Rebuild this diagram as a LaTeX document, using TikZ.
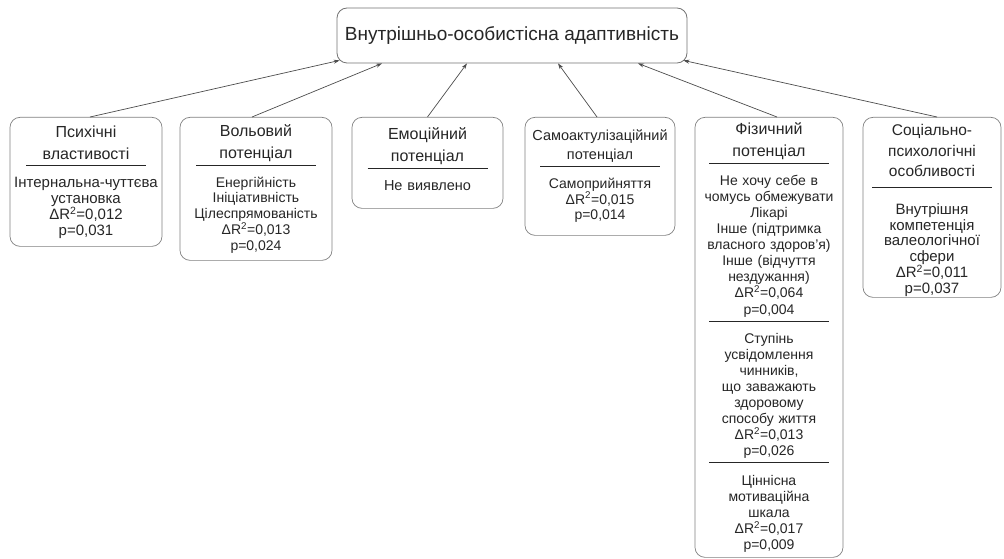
\documentclass[tikz,border=0pt]{standalone}
\usepackage{fontspec}
\setmainfont{Liberation Sans}
\usetikzlibrary{arrows.meta}

\newcommand{\titlefont}{\fontsize{16}{22}\selectfont}
\newcommand{\bodyfont}{\fontsize{14}{15.8}\selectfont}
\newcommand{\sepline}{\par\vspace{-9pt}\rule{120pt}{0.6pt}\par\vspace{6pt}}
\newcommand{\dR}{ΔR\textsuperscript{2}}

\tikzset{
  rootbox/.style={draw=black!55, line width=0.8pt, rounded corners=10pt, fill=white,
    minimum width=350pt, minimum height=55pt, font=\fontsize{19}{22}\selectfont, text=black!85},
  factorbox/.style 2 args={draw=black!50, line width=0.7pt, rounded corners=10pt, fill=white,
    anchor=north, align=center, inner xsep=3pt, inner ysep=0pt,
    text width=#1, minimum height=#2, font=\bodyfont, text=black!85},
  link/.style={draw=black!70, line width=0.7pt, -{Stealth[length=6pt,width=4pt]}}
}

\begin{document}
\begin{tikzpicture}[x=1pt, y=-1pt]
\useasboundingbox (0,0) rectangle (1004,559);
% nodes
\node[rootbox] (adapt) at (512,35.5) {Внутрішньо-особистісна адаптивність};

\node[factorbox={146pt}{129pt}, font=\fontsize{15}{15.8}\selectfont] (psych) at (86,117)
  {{\titlefont Психічні\\властивості\par}\sepline
   Інтернальна-чуттєва\\установка\\\dR=0,012\\p=0,031};
\node[factorbox={146pt}{143pt}] (volit) at (256,117)
  {{\titlefont Вольовий\\потенціал\par}\sepline
   Енергійність\\Ініціативність\\Цілеспрямованість\\\dR=0,013\\p=0,024};
\node[factorbox={145pt}{91pt}, font=\fontsize{14.5}{15.8}\selectfont] (emot) at (427.5,117)
  {{\titlefont Емоційний\\потенціал\par}\sepline
   Не виявлено\par\vspace{8pt}};
\node[factorbox={144pt}{118pt}] (selfact) at (600,117)
  {{\fontsize{14.5}{19}\selectfont Самоактулізаційний\\потенціал\par}\sepline
   Самоприйняття\\\dR=0,015\\p=0,014};
\node[factorbox={142pt}{440pt}, font=\fontsize{14}{16.1}\selectfont] (phys) at (769,117)
  {{\titlefont Фізичний\\потенціал\par}\sepline
   Не хочу себе в\\чомусь обмежувати\\Лікарі\\Інше (підтримка\\власного здоров'я)\\Інше (відчуття\\нездужання)\\\dR=0,064\\p=0,004\sepline
   Ступінь\\усвідомлення\\чинників,\\що заважають\\здоровому\\способу життя\\\dR=0,013\\p=0,026\sepline
   Ціннісна\\мотиваційна\\шкала\\\dR=0,017\\p=0,009};
\node[factorbox={132pt}{180pt}, font=\fontsize{15}{15.8}\selectfont] (social) at (932,117)
  {{\fontsize{15.5}{20.5}\selectfont Соціально-\\психологічні\\особливості\par}\vspace{4pt}\sepline\vspace{5pt}
   Внутрішня\\компетенція\\валеологічної\\сфери\\\dR=0,011\\p=0,037\par\vspace{-6pt}};

% arrows
\draw[link] ([xshift=4pt]psych.north) -- ([xshift=3pt,yshift=3pt]adapt.south west);
\draw[link] ([xshift=-4pt]volit.north) -- ([xshift=-130pt]adapt.south);
\draw[link] (emot.north) -- ([xshift=-45pt]adapt.south);
\draw[link] ([xshift=-3pt]selfact.north) -- ([xshift=46pt]adapt.south);
\draw[link] ([xshift=8pt]phys.north) -- ([xshift=126pt]adapt.south);
\draw[link] ([xshift=5pt]social.north) -- ([xshift=-4pt,yshift=3pt]adapt.south east);
\end{tikzpicture}
\end{document}
